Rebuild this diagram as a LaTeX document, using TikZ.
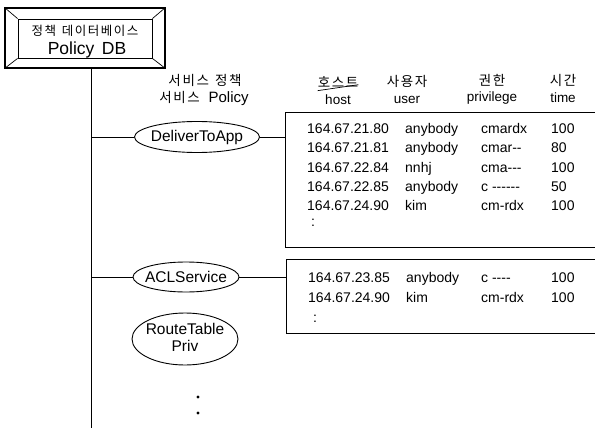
\documentclass[tikz,border=0pt]{standalone}
\usepackage{fontspec}
\setmainfont{Liberation Sans}
\newfontfamily\kr{Noto Sans CJK KR}[LetterSpace=12]
\usetikzlibrary{shapes.geometric}

\tikzset{
  line/.style={line width=0.9pt, black},
  policy/.style={draw, line width=0.9pt, ellipse, inner sep=0pt, font=\fontsize{15.5}{18}\selectfont},
  cell/.style={anchor=base west, inner sep=0pt, font=\fontsize{14}{16}\selectfont},
  head/.style={inner sep=0pt, font=\fontsize{13.5}{16}\selectfont},
  khead/.style={inner sep=0pt, font=\kr\fontsize{13.5}{16}\selectfont},
  dot/.style={circle, fill=black, inner sep=0pt, minimum size=3.2pt},
}
\newcommand{\krgap}{\hspace{0.45em}}

\begin{document}
\begin{tikzpicture}[x=1pt, y=-1pt]
\useasboundingbox (0,0) rectangle (595,428);

% policy database: bevelled frame with inner panel
\node (dbouter) [draw, line width=1.1pt, minimum width=160pt, minimum height=60pt, inner sep=0pt] at (85,38) {};
\node (db) [draw, line width=0.9pt, minimum width=134pt, minimum height=39pt, inner sep=0pt] at (85,38.5) {};
\draw[line width=0.7pt] (dbouter.north west) -- (db.north west)
      (dbouter.north east) -- (db.north east)
      (dbouter.south west) -- (db.south west)
      (dbouter.south east) -- (db.south east);
\draw[line width=1.8pt] (dbouter.south west) -- (dbouter.south east);
\node (dbkr) [khead, font=\kr\fontsize{12.5}{15}\selectfont] at (85,31) {정책\krgap 데이터베이스};
\node (dben) [head, font=\fontsize{17.5}{20}\selectfont] at (87,50) {Policy\hspace{0.15em} DB};

% trunk line
\coordinate (trunkend) at (91,428);
\draw[line] (dbouter.south -| trunkend) -- (trunkend);

% column captions
\node (svckr) [khead] at (205,80) {서비스\krgap 정책};
\node (svcen) [head, font=\fontsize{15}{18}\selectfont] at (204,98) {{\kr\fontsize{13.5}{16}\selectfont 서비스}\hspace{0.3em} Policy};

\node (hhostkr) [khead] at (338,82) {호스트};
\draw[line width=0.7pt] (hhostkr.south west) ++(0,3) -- ([yshift=3pt]hhostkr.south east);
\node (hhost) [head] at (338,100) {host};
\node (huserkr) [khead] at (407,81) {사용자};
\node (huser) [head] at (407,100) {user};
\node (hprivkr) [khead] at (492,80) {권한};
\node (hpriv) [head] at (492,98) {privilege};
\node (htimekr) [khead] at (563,80) {시간};
\node (htime) [head] at (563,98) {time};

% service policies
\node (deliver) [policy, minimum width=125pt, minimum height=31pt] at (197,137) {\makebox[0pt]{DeliverToApp}};
\node (acl) [policy, minimum width=106pt, minimum height=30pt] at (186,277) {\makebox[0pt]{ACLService}};
\node (route) [policy, minimum width=106pt, minimum height=52pt] at (185,339)
  {\makebox[0pt]{\begin{tabular}{@{}c@{}}RouteTable\\[-1pt]Priv\end{tabular}}};
\node (dot1) [dot] at (198,397) {};
\node (dot2) [dot] at (198,413) {};

% access tables, open on the right
\node (box1) [minimum width=309pt, minimum height=134pt, inner sep=0pt] at (440.5,180) {};
\node (box2) [minimum width=308pt, minimum height=73pt, inner sep=0pt] at (441,296.5) {};
\draw[line] (box1.north east) -- (box1.north west) -- (box1.south west) -- (box1.south east);
\draw[line] (box2.north east) -- (box2.north west) -- (box2.south west) -- (box2.south east);

% connectors
\draw[line] (deliver.west -| trunkend) -- (deliver.west);
\draw[line] (deliver.east) -- (deliver.east -| box1.west);
\draw[line] (acl.west -| trunkend) -- (acl.west);
\draw[line] (acl.east) -- (acl.east -| box2.west);

% table rows: host, user, privilege, time
\foreach \r/\y/\h/\u/\p/\t in {
  1/134/164.67.21.80/anybody/cmardx/100,
  2/153/164.67.21.81/anybody/cmar-{}-/80,
  3/172/164.67.22.84/nnhj/cma-{}-{}-/100,
  4/191/164.67.22.85/anybody/{c -{}-{}-{}-{}-{}-}/50,
  5/210/164.67.24.90/kim/cm-rdx/100} {
  \node (a\r host) [cell] at (307,\y) {\h};
  \node (a\r user) [cell] at (405,\y) {\u};
  \node (a\r priv) [cell] at (481,\y) {\p};
  \node (a\r time) [cell] at (551,\y) {\t};
}
\node (amore) [cell] at (311,226) {:};

\foreach \r/\y/\h/\u/\p/\t in {
  1/282/164.67.23.85/anybody/{c -{}-{}-{}-}/100,
  2/302/164.67.24.90/kim/cm-rdx/100} {
  \node (b\r host) [cell] at (308,\y) {\h};
  \node (b\r user) [cell] at (406,\y) {\u};
  \node (b\r priv) [cell] at (481,\y) {\p};
  \node (b\r time) [cell] at (551,\y) {\t};
}
\node (bmore) [cell] at (313,322) {:};
\end{tikzpicture}
\end{document}
